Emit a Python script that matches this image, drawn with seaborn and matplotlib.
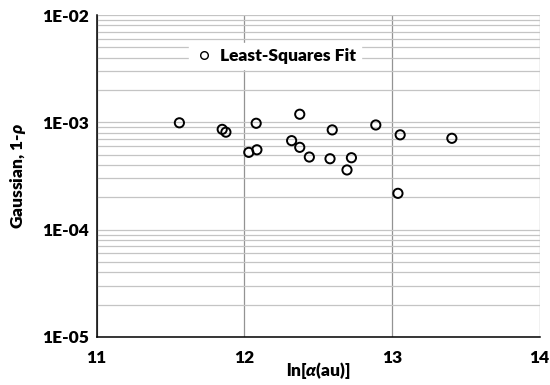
import numpy as np
import pandas as pd
import matplotlib
matplotlib.use("Agg")
import matplotlib.pyplot as plt
from matplotlib.ticker import LogLocator, MultipleLocator, NullFormatter
import seaborn as sns

# Least-squares fit results: ln(alpha) in atomic units vs Gaussian 1-rho
ln_alpha = [11.56, 11.85, 11.875, 12.08, 12.03, 12.085, 12.375, 12.32, 12.375,
            12.44, 12.595, 12.58, 12.725, 12.695, 12.89, 13.055, 13.04, 13.405]
one_minus_rho = [9.9e-4, 8.6e-4, 8.1e-4, 9.8e-4, 5.25e-4, 5.55e-4, 1.19e-3, 6.75e-4, 5.85e-4,
                 4.75e-4, 8.5e-4, 4.58e-4, 4.68e-4, 3.6e-4, 9.45e-4, 7.65e-4, 2.18e-4, 7.1e-4]
series_name = "Least-Squares Fit"
x_ticks = [11, 12, 13, 14]
x_tick_labels = ["11", "12", "13", "14"]
y_ticks = [1e-5, 1e-4, 1e-3, 1e-2]
y_tick_labels = ["1E-05", "1E-04", "1E-03", "1E-02"]

df = pd.DataFrame({"x": ln_alpha, "y": one_minus_rho, "series": series_name})

WEIGHT = "heavy"

sns.set_style("white")
plt.rcParams["font.family"] = ["Lato", "DejaVu Sans"]
plt.rcParams["font.weight"] = WEIGHT
plt.rcParams["text.color"] = "black"
plt.rcParams["axes.labelcolor"] = "black"
plt.rcParams["xtick.color"] = "black"
plt.rcParams["ytick.color"] = "black"
plt.rcParams["mathtext.fontset"] = "custom"
plt.rcParams["mathtext.it"] = "Lato:italic:heavy"
plt.rcParams["mathtext.rm"] = "Lato:heavy"

fig = plt.figure(figsize=(5.5, 3.85), dpi=100)
ax = fig.add_axes([0.1758, 0.1247, 0.8055, 0.8363])

sns.scatterplot(data=df, x="x", y="y", hue="series", palette=["black"],
                marker="o", s=44, linewidth=1.4, ax=ax, zorder=3, legend=False)
# open markers
for coll in ax.collections:
    coll.set_facecolor("none")
    coll.set_edgecolor("black")

ax.set_yscale("log")
ax.set_xlim(11, 14)
ax.set_ylim(1e-5, 1e-2)

ax.set_xticks(x_ticks)
ax.set_xticklabels(x_tick_labels, fontweight=WEIGHT, fontsize=12.5, color="black")
ax.xaxis.set_minor_locator(MultipleLocator(0.1))
ax.set_yticks(y_ticks)
ax.set_yticklabels(y_tick_labels, fontweight=WEIGHT, fontsize=12.5, color="black")
ax.yaxis.set_minor_locator(LogLocator(base=10, subs=np.arange(2, 10)))
ax.yaxis.set_minor_formatter(NullFormatter())

ax.grid(True, which="major", axis="x", color="#939393", linewidth=0.9)
ax.grid(True, which="both", axis="y", color="#c4c4c4", linewidth=0.9)
ax.set_axisbelow(True)

for side in ["top", "right"]:
    ax.spines[side].set_visible(False)
for side in ["left", "bottom"]:
    ax.spines[side].set_color("black")
    ax.spines[side].set_linewidth(1.1)

ax.tick_params(axis="both", which="major", direction="inout", length=7, width=1.0,
               color="black", pad=2)
ax.tick_params(axis="both", which="minor", direction="in", length=3.5, width=1.0,
               color="black")
ax.tick_params(axis="x", which="major", pad=6)

ax.set_xlabel(r"ln[$\alpha$(au)]", fontsize=12.5, fontweight=WEIGHT, color="black")
ax.set_ylabel(r"Gaussian, 1-$\rho$", fontsize=12.5, fontweight=WEIGHT, color="black")
ax.xaxis.set_label_coords(0.5, -0.072)
ax.yaxis.set_label_coords(-0.155, 0.5)

handle = plt.Line2D([], [], linestyle="none", marker="o", markersize=5.5,
                    markerfacecolor="none", markeredgecolor="black", markeredgewidth=1.0)
leg = ax.legend([handle], [series_name], loc="center", bbox_to_anchor=(0.402, 0.873),
                frameon=True, fancybox=False, framealpha=1, edgecolor="white",
                prop={"weight": WEIGHT, "size": 12.5}, handletextpad=0.3,
                borderpad=0.3, handlelength=1.2)
leg.get_frame().set_facecolor("white")

fig.savefig("out.png", dpi=100)
